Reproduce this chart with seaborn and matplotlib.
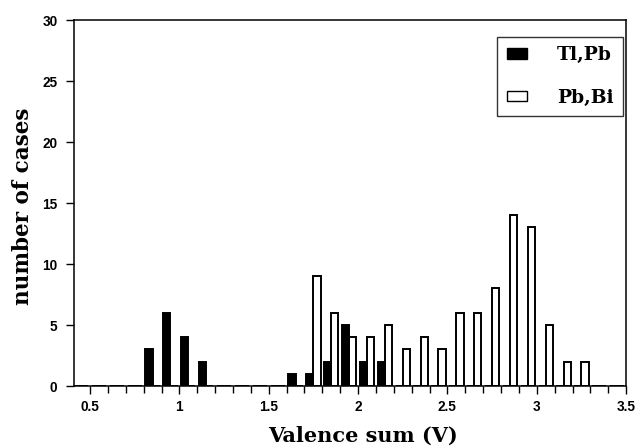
import numpy as np
import pandas as pd
import matplotlib
matplotlib.use("Agg")
import matplotlib.pyplot as plt
import seaborn as sns
from matplotlib.patches import Patch

# ---- data (bin centres, counts) ----
tlpb_bins = [0.85, 0.95, 1.05, 1.15, 1.65, 1.75, 1.85, 1.95, 2.05, 2.15]
tlpb_counts = [3, 6, 4, 2, 1, 1, 2, 5, 2, 2]
pbbi_bins = [1.75, 1.85, 1.95, 2.05, 2.15, 2.25, 2.35, 2.45, 2.55, 2.65,
             2.75, 2.85, 2.95, 3.05, 3.15, 3.25]
pbbi_counts = [9, 6, 4, 4, 5, 3, 4, 3, 6, 6, 8, 14, 13, 5, 2, 2]
series_names = ["Tl,Pb", "Pb,Bi"]
xticks = [0.5, 1, 1.5, 2, 2.5, 3, 3.5]
xtick_labels = ["0.5", "1", "1.5", "2", "2.5", "3", "3.5"]
yticks = [0, 5, 10, 15, 20, 25, 30]

df = pd.DataFrame({
    "x": tlpb_bins + pbbi_bins,
    "n": tlpb_counts + pbbi_counts,
    "series": [series_names[0]] * len(tlpb_bins) + [series_names[1]] * len(pbbi_bins),
})

sns.set_style("ticks")
plt.rcParams.update({
    "text.color": "black", "axes.labelcolor": "black",
    "xtick.color": "black", "ytick.color": "black", "axes.edgecolor": "black",
})
fig = plt.figure(figsize=(6.35, 4.46), dpi=100)
ax = fig.add_axes([0.1165, 0.1345, 0.8695, 0.8205])

sns.histplot(data=df, x="x", weights="n", hue="series", hue_order=series_names,
             binwidth=0.1, binrange=(0.4, 3.5), multiple="dodge", shrink=0.8,
             palette={"Tl,Pb": "black", "Pb,Bi": "white"},
             edgecolor="black", linewidth=1.4, alpha=1, legend=False, ax=ax)

ax.set_xlim(0.41, 3.5)
ax.set_ylim(0, 30)
ax.set_xticks(xticks)
ax.set_xticklabels(xtick_labels)
ax.set_xticks(np.arange(0.5, 3.5, 0.1), minor=True)
ax.set_yticks(yticks)
ax.set_yticklabels([str(v) for v in yticks])
for lab in ax.get_xticklabels() + ax.get_yticklabels():
    lab.set_fontweight("bold")
    lab.set_fontsize(9.8)
    lab.set_family("Liberation Sans")
ax.tick_params(axis="x", which="major", direction="out", length=6, width=1, pad=4)
ax.tick_params(axis="x", which="minor", direction="out", length=5, width=1)
ax.tick_params(axis="y", which="major", direction="out", length=6, width=1, pad=6)
for s in ax.spines.values():
    s.set_visible(True)
    s.set_linewidth(1.1)
    s.set_color("black")

ax.set_xlabel("Valence sum (V)", fontsize=15, fontweight="bold",
              family="DejaVu Serif", va="center")
ax.xaxis.set_label_coords(0.523, -0.137)
ax.set_ylabel("number of cases", fontsize=15.5, fontweight="bold",
              family="DejaVu Serif", va="center")
ax.yaxis.set_label_coords(-0.093, 0.492)

handles = [Patch(facecolor="black", edgecolor="black"),
           Patch(facecolor="white", edgecolor="black")]
leg = ax.legend(handles, series_names, loc="upper right",
                bbox_to_anchor=(0.9946, 0.9536), frameon=True, fancybox=False,
                prop={"family": "DejaVu Serif", "weight": "bold", "size": 13.5},
                handlelength=1.1, handleheight=0.5, labelspacing=1.3,
                borderpad=0.5, handletextpad=1.6, borderaxespad=0)
leg.get_frame().set_edgecolor("black")
leg.get_frame().set_linewidth(1.0)

fig.savefig("out.png", dpi=100)
